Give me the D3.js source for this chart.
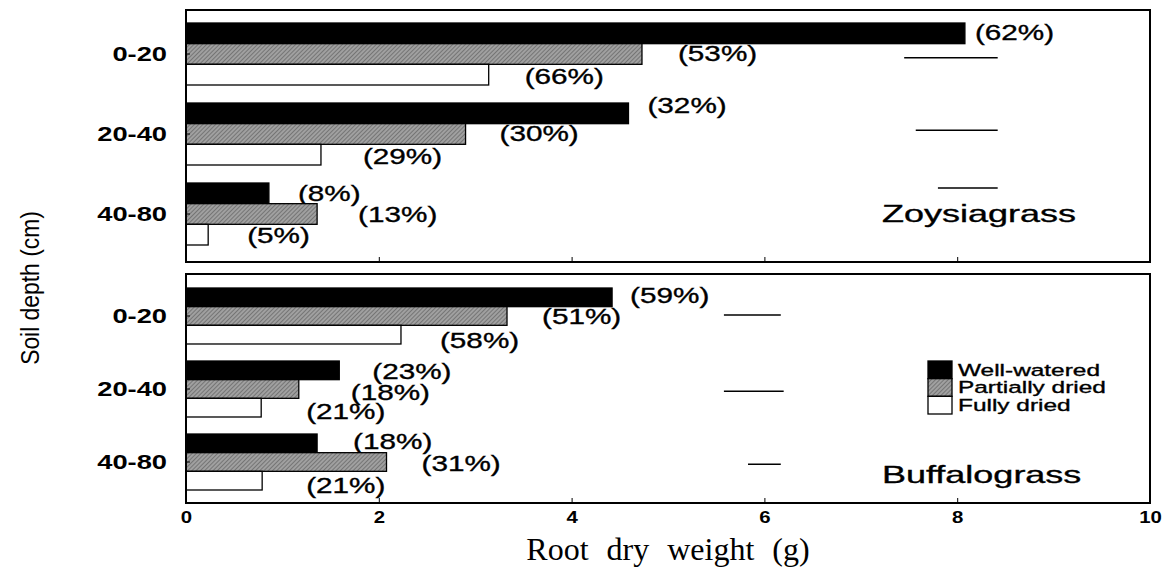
<!DOCTYPE html>
<html>
<head>
<meta charset="utf-8">
<script src="https://cdn.jsdelivr.net/npm/d3@7"></script>
<style>
  html, body { margin: 0; padding: 0; background: #fff; }
  svg { display: block; }
  text { font-family: "Liberation Sans", Arial, sans-serif; fill: #000; }
</style>
</head>
<body>
<svg id="chart" width="1172" height="571"></svg>
<script>
// ---- data ----
const depths = [ '0-20', '20-40', '40-80' ];
const treatments = [ 'Well-watered', 'Partially dried', 'Fully dried' ];
const xTicks = [ 0, 2, 4, 6, 8, 10 ];

const zoysiaWell = [ 8.08, 4.59, 0.86 ];
const zoysiaPartial = [ 4.73, 2.90, 1.36 ];
const zoysiaFully = [ 3.14, 1.40, 0.23 ];
const zoysiaWellPct = [ 62, 32, 8 ];
const zoysiaPartialPct = [ 53, 30, 13 ];
const zoysiaFullyPct = [ 66, 29, 5 ];
const zoysiaLsd = [ [ 7.45, 8.42 ], [ 7.57, 8.42 ], [ 7.80, 8.42 ] ];

const buffaloWell = [ 4.42, 1.59, 1.36 ];
const buffaloPartial = [ 3.33, 1.17, 2.08 ];
const buffaloFully = [ 2.23, 0.78, 0.79 ];
const buffaloWellPct = [ 59, 23, 18 ];
const buffaloPartialPct = [ 51, 18, 31 ];
const buffaloFullyPct = [ 58, 21, 21 ];
const buffaloLsd = [ [ 5.58, 6.17 ], [ 5.58, 6.20 ], [ 5.83, 6.17 ] ];

// ---- layout ----
const x0 = 186, x1 = 1150;
const panels = [
    {
        name: 'Zoysiagrass', top: 10, bottom: 262, bands: [ 23, 245 ], pad: 0.225,
        values: [ zoysiaWell, zoysiaPartial, zoysiaFully ],
        pcts: [ zoysiaWellPct, zoysiaPartialPct, zoysiaFullyPct ],
        lsd: zoysiaLsd, lsdAt: [ 0.56, 0.44, 0.08 ],
        // label nudge [dx from bar end, dy from bar centre] by depth, treatment
        nudge: [
            [ [ 10, -1 ], [ 36, -1 ], [ 36, 2 ] ],
            [ [ 19, -8 ], [ 34, -1 ], [ 42, 2 ] ],
            [ [ 29, 0 ], [ 41, 0 ], [ 39, 1 ] ]
        ],
        titleY: 222
    },
    {
        name: 'Buffalograss', top: 274, bottom: 503, bands: [ 288, 490 ], pad: 0.233,
        values: [ buffaloWell, buffaloPartial, buffaloFully ],
        pcts: [ buffaloWellPct, buffaloPartialPct, buffaloFullyPct ],
        lsd: buffaloLsd, lsdAt: [ 0.48, 0.54, 0.54 ],
        nudge: [
            [ [ 18, -2 ], [ 35, 0 ], [ 39, 6 ] ],
            [ [ 33, 1 ], [ 52, 3 ], [ 45, 4 ] ],
            [ [ 36, -2 ], [ 35, 1 ], [ 44, 5 ] ]
        ],
        titleY: 483
    }
];

const svg = d3.select( '#chart' );

// halftone-ish fill for the partially dried bars
const defs = svg.append( 'defs' );
const pat = defs.append( 'pattern' )
    .attr( 'id', 'stipple' )
    .attr( 'width', 3 ).attr( 'height', 3 )
    .attr( 'patternUnits', 'userSpaceOnUse' )
    .attr( 'patternTransform', 'rotate(45)' );
pat.append( 'rect' ).attr( 'width', 3 ).attr( 'height', 3 ).attr( 'fill', '#a0a0a0' );
pat.append( 'line' ).attr( 'x1', 0 ).attr( 'y1', 0 ).attr( 'x2', 0 ).attr( 'y2', 3 )
    .attr( 'stroke', '#575757' ).attr( 'stroke-width', 1.2 );

const fills = [ '#000', 'url(#stipple)', '#fff' ];

const xScale = d3.scaleLinear().domain( [ 0, 10 ] ).range( [ x0, x1 ] );

function scaledText( g, x, y, str, sx, size, weight ) {
    return g.append( 'text' )
        .attr( 'transform', `translate(${x},${y}) scale(${sx},1)` )
        .style( 'font-size', size + 'px' )
        .style( 'font-weight', weight || 'normal' )
        .style( 'stroke', '#000' )
        .style( 'stroke-width', 0.35 )
        .text( str );
}

panels.forEach( ( p, pi ) => {
    const g = svg.append( 'g' );
    const yScale = d3.scaleBand().domain( depths ).range( p.bands ).paddingInner( p.pad ).paddingOuter( 0 );
    const inner = d3.scaleBand().domain( treatments ).range( [ 0, yScale.bandwidth() ] );

    // bars
    depths.forEach( ( depth, di ) => {
        treatments.forEach( ( t, ti ) => {
            const v = p.values[ ti ][ di ];
            const y = yScale( depth ) + inner( t );
            g.append( 'rect' )
                .attr( 'x', xScale( 0 ) )
                .attr( 'y', y )
                .attr( 'width', xScale( v ) - xScale( 0 ) )
                .attr( 'height', inner.bandwidth() )
                .attr( 'fill', fills[ ti ] )
                .attr( 'stroke', '#000' )
                .attr( 'stroke-width', 1.3 );
            const [ dx, dy ] = p.nudge[ di ][ ti ];
            scaledText( g, xScale( v ) + dx, y + inner.bandwidth() / 2 + dy,
                `(${p.pcts[ ti ][ di ]}%)`, 1.35, 22 )
                .attr( 'dominant-baseline', 'central' );
        } );
        // LSD line
        const [ a, b ] = p.lsd[ di ];
        const ly = yScale( depth ) + yScale.bandwidth() * p.lsdAt[ di ];
        g.append( 'line' )
            .attr( 'x1', xScale( a ) ).attr( 'x2', xScale( b ) )
            .attr( 'y1', ly ).attr( 'y2', ly )
            .attr( 'stroke', '#000' ).attr( 'stroke-width', 1.5 );
    } );

    // frame
    g.append( 'rect' )
        .attr( 'x', x0 ).attr( 'y', p.top )
        .attr( 'width', x1 - x0 ).attr( 'height', p.bottom - p.top )
        .attr( 'fill', 'none' ).attr( 'stroke', '#000' ).attr( 'stroke-width', 2 );

    // y axis with category labels
    const yAxisG = g.append( 'g' )
        .attr( 'transform', `translate(${x0},0)` )
        .call( d3.axisLeft( yScale ).tickSize( -4 ).tickPadding( 19 ) );
    yAxisG.select( '.domain' ).remove();
    yAxisG.selectAll( 'text' )
        .attr( 'x', -19 / 1.3 )
        .attr( 'transform', 'scale(1.3,1)' )
        .style( 'font-size', '21px' )
        .style( 'font-weight', 'bold' )
        .style( 'font-family', '"Liberation Sans", Arial, sans-serif' );

    // x axis ticks on bottom edge
    const xAxis = d3.axisBottom( xScale ).tickValues( xTicks ).tickSize( -5 ).tickPadding( 8 );
    if ( pi === 0 ) xAxis.tickFormat( '' );
    const xAxisG = g.append( 'g' )
        .attr( 'transform', `translate(0,${p.bottom})` )
        .call( xAxis );
    xAxisG.select( '.domain' ).remove();
    xAxisG.selectAll( 'text' )
        .attr( 'transform', 'scale(1.2,1)' )
        .style( 'font-size', '17px' )
        .style( 'font-weight', 'bold' )
        .style( 'font-family', '"Liberation Sans", Arial, sans-serif' );

    // species title
    scaledText( g, 882, p.titleY, p.name, 1.5, 24 );
} );

// legend
const legend = svg.append( 'g' ).attr( 'transform', 'translate(928,361)' );
const legendScale = d3.scaleBand().domain( treatments ).range( [ 0, 53 ] );
treatments.forEach( ( t, i ) => {
    legend.append( 'rect' )
        .attr( 'x', 0 ).attr( 'y', legendScale( t ) )
        .attr( 'width', 24 ).attr( 'height', legendScale.bandwidth() )
        .attr( 'fill', fills[ i ] )
        .attr( 'stroke', '#000' ).attr( 'stroke-width', 1.3 );
    scaledText( legend, 30, legendScale( t ) + legendScale.bandwidth() / 2, t, 1.48, 16.5 )
        .attr( 'dominant-baseline', 'central' );
} );

// axis titles
svg.append( 'text' )
    .attr( 'transform', 'translate(30,288) rotate(-90) scale(0.88,1)' )
    .attr( 'text-anchor', 'middle' )
    .attr( 'dominant-baseline', 'central' )
    .style( 'font-size', '26px' )
    .text( 'Soil depth (cm)' );

svg.append( 'text' )
    .attr( 'x', 668 ).attr( 'y', 560 )
    .attr( 'text-anchor', 'middle' )
    .style( 'font-family', '"Liberation Serif", "Times New Roman", serif' )
    .style( 'font-size', '32px' )
    .style( 'word-spacing', '10px' )
    .text( 'Root dry weight (g)' );
</script>
</body>
</html>
